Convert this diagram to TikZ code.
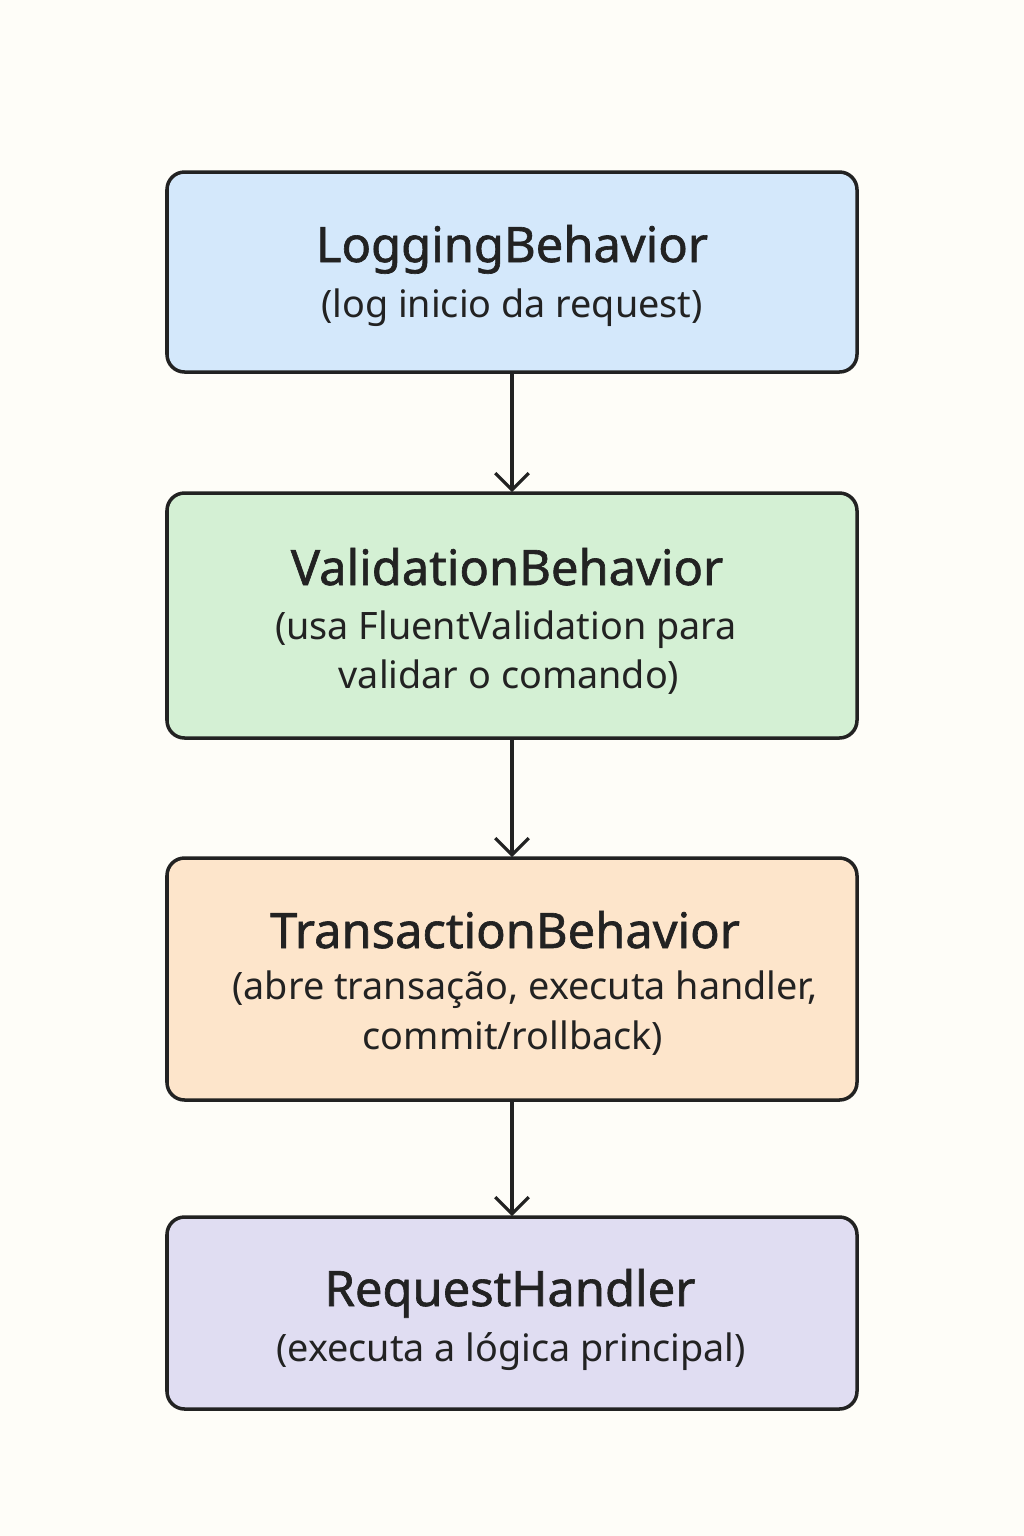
\documentclass[tikz,border=0pt]{standalone}
\usepackage{fontspec}
\setmainfont{Noto Sans}
\newfontfamily\titlefont[FakeBold=1.3]{Noto Sans}
\usetikzlibrary{arrows.meta}
\definecolor{bgc}{HTML}{FEFDF8}
\definecolor{ink}{HTML}{222222}
\definecolor{bluef}{HTML}{D4E8FB}
\definecolor{greenf}{HTML}{D4F0D4}
\definecolor{orangef}{HTML}{FDE5CB}
\definecolor{purplef}{HTML}{E0DDF2}
\tikzset{
  box/.style={draw=ink, line width=2pt, rounded corners=10pt},
  ttl/.style={anchor=base, text=ink, inner sep=0pt, font=\titlefont\fontsize{27.8}{34}\selectfont},
  sub/.style={anchor=base, text=ink, inner sep=0pt, font=\fontsize{21.5}{26}\selectfont},
  conn/.style={draw=ink, line width=1.8pt, -{Straight Barb[length=9.5pt, width=19pt, line width=1.8pt]}},
}
\begin{document}
\begin{tikzpicture}[x=0.02cm, y=-0.02cm]
\path[fill=bgc] (0,0) rectangle (1024,1536);
\useasboundingbox (0,0) rectangle (1024,1536);
% boxes
\path[box, fill=bluef] (167,172) rectangle (857,372);
\coordinate (b1s) at (512,372);
\coordinate (b2n) at (512,492);
\path[box, fill=greenf] (167,493) rectangle (857,738);
\coordinate (b2s) at (512,738);
\coordinate (b3n) at (512,857);
\path[box, fill=orangef] (167,858) rectangle (857,1100);
\coordinate (b3s) at (512,1100);
\coordinate (b4n) at (512,1216);
\path[box, fill=purplef] (167,1217) rectangle (857,1409);
% texts
\node[ttl] (t1) at (512,262) {LoggingBehavior};
\node[sub] (s1) at (512,317) {(log inicio da request)};
\node[ttl] (t2) at (507,585) {ValidationBehavior};
\node[sub] (s2a) at (506,639) {(usa FluentValidation para};
\node[sub] (s2b) at (509,688) {validar o comando)};
\node[ttl] (t3) at (505,948) {TransactionBehavior};
\node[sub] (s3a) at (525,999) {(abre transação, executa handler,};
\node[sub] (s3b) at (513,1049) {commit/rollback)};
\node[ttl] (t4) at (510,1306) {RequestHandler};
\node[sub] (s4) at (511,1361) {(executa a lógica principal)};
% connectors
\draw[conn] (b1s) -- (b2n);
\draw[conn] (b2s) -- (b3n);
\draw[conn] (b3s) -- (b4n);
\end{tikzpicture}
\end{document}
